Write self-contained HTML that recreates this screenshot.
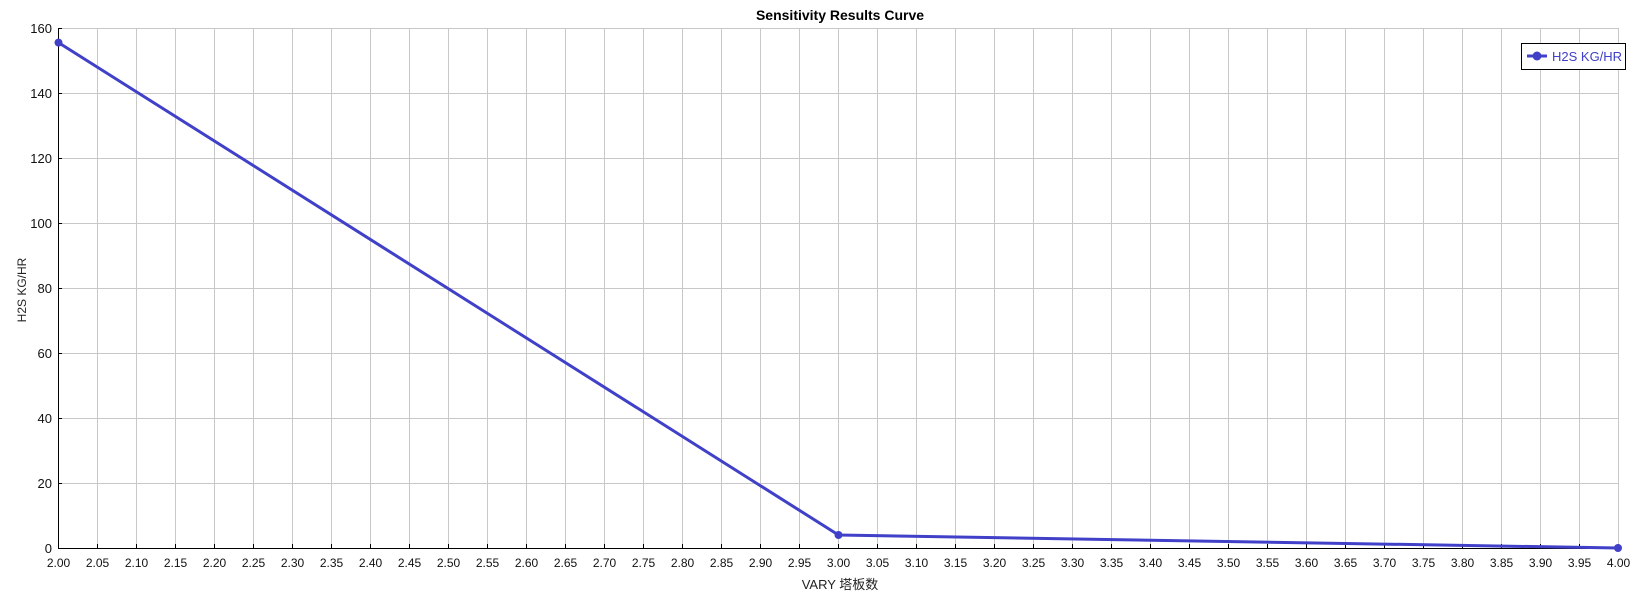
<!DOCTYPE html>
<html><head><meta charset="utf-8"><style>html,body{margin:0;padding:0;background:#fff}svg{display:block}</style></head><body>
<svg width="1641" height="599" xmlns="http://www.w3.org/2000/svg" font-family="Liberation Sans, Noto Sans CJK SC, sans-serif">
<defs>
<pattern id="vg" x="58" y="0" width="39" height="600" patternUnits="userSpaceOnUse">
<line x1="0.5" y1="0" x2="0.5" y2="600" stroke="#c8c8c8" stroke-width="1"/>
</pattern>
<pattern id="vt" x="58" y="0" width="39" height="600" patternUnits="userSpaceOnUse">
<line x1="0.5" y1="0" x2="0.5" y2="600" stroke="#000" stroke-width="1"/>
</pattern>
</defs>
<rect x="59" y="28" width="1561" height="520" fill="url(#vg)"/>
<rect x="58" y="544" width="1562" height="4" fill="url(#vt)"/>
<g stroke="#c8c8c8">
<line x1="58" y1="483.5" x2="1619" y2="483.5"/><line x1="58" y1="418.5" x2="1619" y2="418.5"/>
<line x1="58" y1="353.5" x2="1619" y2="353.5"/><line x1="58" y1="288.5" x2="1619" y2="288.5"/>
<line x1="58" y1="223.5" x2="1619" y2="223.5"/><line x1="58" y1="158.5" x2="1619" y2="158.5"/>
<line x1="58" y1="93.5" x2="1619" y2="93.5"/><line x1="58" y1="28.5" x2="1619" y2="28.5"/>
</g>
<g stroke="#000">
<line x1="58" y1="483.5" x2="62" y2="483.5"/><line x1="58" y1="418.5" x2="62" y2="418.5"/>
<line x1="58" y1="353.5" x2="62" y2="353.5"/><line x1="58" y1="288.5" x2="62" y2="288.5"/>
<line x1="58" y1="223.5" x2="62" y2="223.5"/><line x1="58" y1="158.5" x2="62" y2="158.5"/>
<line x1="58" y1="93.5" x2="62" y2="93.5"/><line x1="58" y1="28.5" x2="62" y2="28.5"/>
<line x1="58.5" y1="28" x2="58.5" y2="549"/><line x1="58" y1="548.5" x2="1619" y2="548.5"/>
</g>
<g font-size="13" fill="#111" text-anchor="end">
<text x="52" y="553">0</text><text x="52" y="488">20</text><text x="52" y="423">40</text>
<text x="52" y="358">60</text><text x="52" y="293">80</text><text x="52" y="228">100</text>
<text x="52" y="163">120</text><text x="52" y="98">140</text><text x="52" y="33">160</text>
</g>
<g font-size="12" fill="#111" text-anchor="middle">
<text x="58.5" y="567">2.00</text><text x="97.5" y="567">2.05</text><text x="136.5" y="567">2.10</text><text x="175.5" y="567">2.15</text>
<text x="214.5" y="567">2.20</text><text x="253.5" y="567">2.25</text><text x="292.5" y="567">2.30</text><text x="331.5" y="567">2.35</text>
<text x="370.5" y="567">2.40</text><text x="409.5" y="567">2.45</text><text x="448.5" y="567">2.50</text><text x="487.5" y="567">2.55</text>
<text x="526.5" y="567">2.60</text><text x="565.5" y="567">2.65</text><text x="604.5" y="567">2.70</text><text x="643.5" y="567">2.75</text>
<text x="682.5" y="567">2.80</text><text x="721.5" y="567">2.85</text><text x="760.5" y="567">2.90</text><text x="799.5" y="567">2.95</text>
<text x="838.5" y="567">3.00</text><text x="877.5" y="567">3.05</text><text x="916.5" y="567">3.10</text><text x="955.5" y="567">3.15</text>
<text x="994.5" y="567">3.20</text><text x="1033.5" y="567">3.25</text><text x="1072.5" y="567">3.30</text><text x="1111.5" y="567">3.35</text>
<text x="1150.5" y="567">3.40</text><text x="1189.5" y="567">3.45</text><text x="1228.5" y="567">3.50</text><text x="1267.5" y="567">3.55</text>
<text x="1306.5" y="567">3.60</text><text x="1345.5" y="567">3.65</text><text x="1384.5" y="567">3.70</text><text x="1423.5" y="567">3.75</text>
<text x="1462.5" y="567">3.80</text><text x="1501.5" y="567">3.85</text><text x="1540.5" y="567">3.90</text><text x="1579.5" y="567">3.95</text>
<text x="1618.5" y="567">4.00</text>
</g>
<polyline points="58.5,42.6 838.5,535 1618.5,548" fill="none" stroke="#4040c8" stroke-width="3"/>
<circle cx="58.5" cy="42.6" r="4" fill="#4040c8"/><circle cx="838.5" cy="535" r="4" fill="#4040c8"/><circle cx="1618" cy="548" r="4" fill="#4040c8"/>
<rect x="1521.5" y="43.5" width="104" height="26" fill="#fff" stroke="#000"/>
<line x1="1527" y1="56" x2="1547" y2="56" stroke="#4040c8" stroke-width="3"/><circle cx="1537" cy="56" r="4.5" fill="#4040c8"/>
<text x="1552" y="61" font-size="13" fill="#4040c8">H2S KG/HR</text>
<text x="840" y="20" text-anchor="middle" font-weight="bold" font-size="14">Sensitivity Results Curve</text>
<text x="840" y="589" text-anchor="middle" font-size="13" fill="#222">VARY  塔板数</text>
<text transform="translate(26,290) rotate(-90)" text-anchor="middle" font-size="12" fill="#222">H2S KG/HR</text>
</svg>
</body></html>
